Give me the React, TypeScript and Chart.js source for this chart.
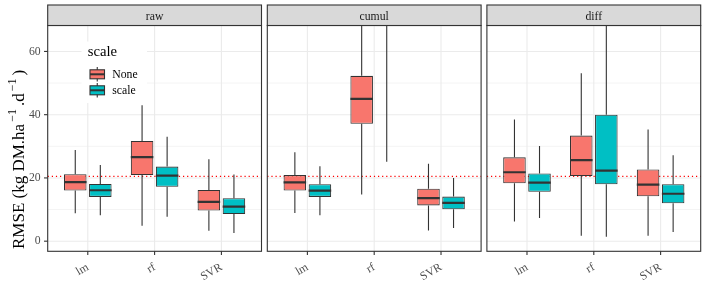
import React, { useEffect, useRef } from 'react';
import { Chart, registerables } from 'chart.js';

Chart.register(...registerables);

// ---------- data ----------
const facets = ['raw', 'cumul', 'diff'];
const categories = ['lm', 'rf', 'SVR'];
const seriesNames = ['None', 'scale'];
const seriesColors = ['#F8766D', '#00BFC4'];
// each entry: [lower whisker, q1, median, q3, upper whisker] for lm, rf, SVR
const rawNone = [[8.8, 16.0, 18.7, 21.2, 28.8], [4.9, 20.9, 26.6, 31.7, 43.0], [3.3, 9.7, 12.4, 16.2, 25.9]];
const rawScale = [[8.2, 14.0, 16.1, 18.1, 24.1], [7.7, 17.2, 20.7, 23.6, 33.0], [2.6, 8.6, 10.9, 13.6, 21.1]];
const cumulNone = [[8.9, 16.0, 18.6, 20.9, 28.1], [14.8, 37.1, 45.0, 52.3, 80.0], [3.4, 11.3, 13.6, 16.6, 24.5]];
const cumulScale = [[8.2, 14.0, 16.0, 18.0, 23.7], [25.1, 72.0, 82.0, 92.0, 115.0], [4.2, 10.1, 12.1, 14.1, 20.0]];
const diffNone = [[6.2, 18.3, 21.8, 26.5, 38.5], [1.7, 20.6, 25.6, 33.4, 53.1], [1.7, 14.2, 17.9, 22.7, 35.3]];
const diffScale = [[7.3, 15.6, 18.5, 21.4, 30.1], [1.4, 18.0, 22.3, 40.0, 75.0], [2.9, 12.0, 15.0, 18.0, 27.2]];
const yTicks = [0, 20, 40, 60];
const yMinorTicks = [10, 30, 50];
const refLine = 20.5;
const yMin = -3.2;
const yMax = 68.2;

const panelStats = [
  [rawNone, rawScale],
  [cumulNone, cumulScale],
  [diffNone, diffScale],
];

// ---------- layout ----------
const W = 706;
const H = 283;
const panelLefts = [47.7, 267.3, 486.9];
const panelW = 213.8;
const plotTop = 25.5;
const plotBottom = 251.3;
const stripTop = 5;
const SERIF = '"Liberation Serif", "Times New Roman", serif';

Chart.defaults.font.family = SERIF;

function line(ctx: CanvasRenderingContext2D, x1: number, y1: number, x2: number, y2: number) {
  ctx.beginPath();
  ctx.moveTo(x1, y1);
  ctx.lineTo(x2, y2);
  ctx.stroke();
}

function makePlugin(pi: number) {
  return {
    id: 'facetDecor' + pi,
    beforeDatasetsDraw(chart: any) {
      const { ctx, chartArea: a } = chart;
      const x = chart.scales.x;
      const y = chart.scales.y;
      ctx.save();
      // grid
      ctx.strokeStyle = '#EBEBEB';
      ctx.lineWidth = 0.6;
      yMinorTicks.forEach((v) => {
        const py = y.getPixelForValue(v);
        line(ctx, a.left, py, a.right, py);
      });
      ctx.lineWidth = 1.1;
      yTicks.forEach((v) => {
        const py = y.getPixelForValue(v);
        line(ctx, a.left, py, a.right, py);
      });
      categories.forEach((_, j) => {
        const px = x.getPixelForValue(j + 1);
        line(ctx, px, a.top, px, a.bottom);
      });
      // reference line
      ctx.strokeStyle = '#FF0000';
      ctx.lineWidth = 1.1;
      ctx.setLineDash([1.2, 2.9]);
      const ry = y.getPixelForValue(refLine);
      line(ctx, a.left, ry, a.right, ry);
      ctx.setLineDash([]);
      // whiskers
      ctx.beginPath();
      ctx.rect(a.left, a.top, a.right - a.left, a.bottom - a.top);
      ctx.clip();
      ctx.strokeStyle = '#333333';
      ctx.lineWidth = 1.1;
      seriesNames.forEach((_, s) => {
        const meta = chart.getDatasetMeta(s);
        const stats = panelStats[pi][s];
        meta.data.forEach((el: any, j: number) => {
          const st = stats[j];
          line(ctx, el.x, y.getPixelForValue(st[3]), el.x, y.getPixelForValue(st[4]));
          line(ctx, el.x, y.getPixelForValue(st[1]), el.x, y.getPixelForValue(st[0]));
        });
      });
      ctx.restore();
    },
    afterDatasetsDraw(chart: any) {
      const { ctx, chartArea: a } = chart;
      const x = chart.scales.x;
      const y = chart.scales.y;
      ctx.save();
      ctx.beginPath();
      ctx.rect(a.left, a.top, a.right - a.left, a.bottom - a.top);
      ctx.clip();
      ctx.strokeStyle = '#333333';
      ctx.lineWidth = 2.2;
      seriesNames.forEach((_, s) => {
        const meta = chart.getDatasetMeta(s);
        const stats = panelStats[pi][s];
        meta.data.forEach((el: any, j: number) => {
          const py = y.getPixelForValue(stats[j][2]);
          line(ctx, el.x - el.width / 2, py, el.x + el.width / 2, py);
        });
      });
      ctx.restore();

      ctx.save();
      // panel border
      ctx.strokeStyle = '#333333';
      ctx.lineWidth = 1.1;
      ctx.strokeRect(a.left, a.top, a.right - a.left, a.bottom - a.top);
      // strip
      ctx.fillStyle = '#D9D9D9';
      ctx.fillRect(a.left, stripTop, a.right - a.left, a.top - stripTop);
      ctx.strokeRect(a.left, stripTop, a.right - a.left, a.top - stripTop);
      ctx.fillStyle = '#1A1A1A';
      ctx.font = '11.73px ' + SERIF;
      ctx.textAlign = 'center';
      ctx.textBaseline = 'alphabetic';
      ctx.fillText(facets[pi], (a.left + a.right) / 2, 19.6);
      // x tick marks
      ctx.lineWidth = 1.1;
      categories.forEach((_, j) => {
        const px = x.getPixelForValue(j + 1);
        line(ctx, px, a.bottom, px, a.bottom + 3.67);
      });
      if (pi === 0) {
        // y tick marks
        yTicks.forEach((v) => {
          const py = y.getPixelForValue(v);
          line(ctx, a.left - 3.67, py, a.left, py);
        });
        // legend
        ctx.fillStyle = '#FFFFFF';
        ctx.fillRect(81.5, 41.5, 65.5, 61.5);
        ctx.fillStyle = '#000000';
        ctx.textAlign = 'left';
        ctx.font = '14.67px ' + SERIF;
        ctx.fillText('scale', 87.7, 55.7);
        const keyCenters = [74.3, 90.3];
        const keyL = 90;
        const keyW = 14.5;
        seriesNames.forEach((name, s) => {
          const cy = keyCenters[s];
          const cx = keyL + keyW / 2;
          ctx.strokeStyle = '#333333';
          ctx.lineWidth = 1.1;
          line(ctx, cx, cy - 7.2, cx, cy + 7.2);
          ctx.fillStyle = seriesColors[s];
          ctx.fillRect(keyL, cy - 4.5, keyW, 9);
          ctx.strokeRect(keyL, cy - 4.5, keyW, 9);
          ctx.lineWidth = 2;
          line(ctx, keyL, cy, keyL + keyW, cy);
          ctx.fillStyle = '#000000';
          ctx.font = '11.73px ' + SERIF;
          ctx.fillText(name, 112.3, cy + 4);
        });
        // y axis title with superscripts
        ctx.save();
        ctx.translate(23.8, 249);
        ctx.rotate(-Math.PI / 2);
        ctx.fillStyle = '#000000';
        ctx.textAlign = 'left';
        ctx.textBaseline = 'alphabetic';
        const parts = [
          { t: 'RMSE (kg DM.ha', sup: false, gap: 2 },
          { t: '\u22121', sup: true, gap: 3 },
          { t: '.d', sup: false, gap: 2 },
          { t: '\u22121', sup: true, gap: 3 },
          { t: ')', sup: false, gap: 0 },
        ];
        let pos = 0;
        parts.forEach((p) => {
          ctx.font = (p.sup ? '12px ' : '17px ') + SERIF;
          ctx.fillText(p.t, pos, p.sup ? -7.5 : 0);
          pos += ctx.measureText(p.t).width + p.gap;
        });
        ctx.restore();
      }
      ctx.restore();
    },
  };
}

function Panel({ pi }: { pi: number }) {
  const ref = useRef<HTMLCanvasElement | null>(null);
  useEffect(() => {
    const canvas = ref.current;
    if (!canvas) return;
    const stats = panelStats[pi];
    const left = panelLefts[pi];
    const right = left + panelW;
    const datasets = seriesNames.map((name, s) => ({
      label: name,
      data: categories.map((_, j) => ({ x: j + 1, y: [stats[s][j][1], stats[s][j][3]] })),
      backgroundColor: seriesColors[s],
      borderColor: '#333333',
      borderWidth: 1.1,
      borderSkipped: false,
      categoryPercentage: 0.75,
      barPercentage: 0.9,
    }));
    const tickFont = { family: SERIF, size: 11.73 };
    const chart = new Chart(canvas, {
      type: 'bar',
      data: { datasets } as any,
      options: {
        responsive: false,
        animation: false,
        devicePixelRatio: 1,
        layout: { padding: { left: pi === 0 ? 0 : left, right: W - right, top: plotTop, bottom: 0 } },
        plugins: { legend: { display: false }, tooltip: { enabled: false } },
        scales: {
          x: {
            type: 'linear',
            min: 0.4,
            max: 3.6,
            offset: false,
            grid: { display: false, drawTicks: false },
            border: { display: false },
            afterBuildTicks: (s: any) => {
              s.ticks = categories.map((_, j) => ({ value: j + 1 }));
            },
            afterFit: (s: any) => {
              s.height = H - plotBottom;
            },
            ticks: {
              autoSkip: false,
              minRotation: 30,
              maxRotation: 30,
              padding: 9,
              color: '#4D4D4D',
              font: tickFont,
              callback: (v: any) => categories[Math.round(Number(v)) - 1] ?? '',
            },
          },
          y: {
            display: pi === 0,
            min: yMin,
            max: yMax,
            grid: { display: false, drawTicks: false },
            border: { display: false },
            afterBuildTicks: (s: any) => {
              s.ticks = yTicks.map((v) => ({ value: v }));
            },
            afterFit: (s: any) => {
              s.width = pi === 0 ? panelLefts[0] : 0;
            },
            ticks: { padding: 7, color: '#4D4D4D', font: tickFont },
          },
        },
      } as any,
      plugins: [makePlugin(pi)],
    });
    return () => chart.destroy();
  }, [pi]);
  return (
    <canvas
      ref={ref}
      width={W}
      height={H}
      style={{ position: 'absolute', left: 0, top: 0, width: W, height: H }}
    />
  );
}

export default function App() {
  return (
    <div
      style={{
        position: 'fixed',
        left: 0,
        top: 0,
        width: W,
        height: H,
        background: '#FFFFFF',
        overflow: 'hidden',
      }}
    >
      {facets.map((_, pi) => (
        <Panel key={pi} pi={pi} />
      ))}
    </div>
  );
}
